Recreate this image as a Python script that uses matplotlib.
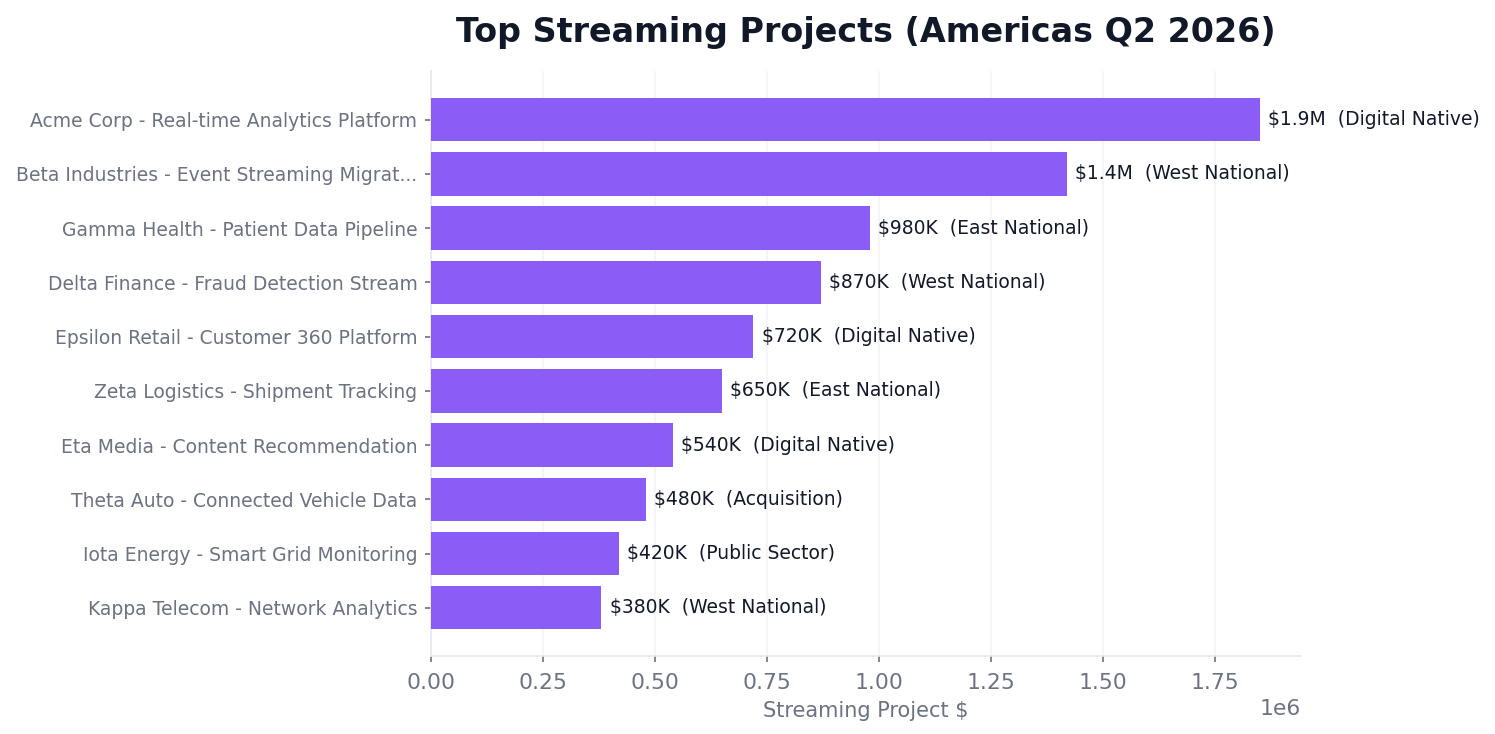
import matplotlib.pyplot as plt
import numpy as np

projects = [
    'Acme Corp - Real-time Analytics Platform',
    'Beta Industries - Event Streaming Migrat...',
    'Gamma Health - Patient Data Pipeline',
    'Delta Finance - Fraud Detection Stream',
    'Epsilon Retail - Customer 360 Platform',
    'Zeta Logistics - Shipment Tracking',
    'Eta Media - Content Recommendation',
    'Theta Auto - Connected Vehicle Data',
    'Iota Energy - Smart Grid Monitoring',
    'Kappa Telecom - Network Analytics',
]
values = [1850000, 1420000, 980000, 870000, 720000, 650000, 540000, 480000, 420000, 380000]
segments = ['Digital Native', 'West National', 'East National', 'West National', 'Digital Native',
            'East National', 'Digital Native', 'Acquisition', 'Public Sector', 'West National']


def fmt(v):
    if v >= 1e6:
        return f'${v/1e6:.1f}M'
    return f'${v/1e3:.0f}K'


fig = plt.figure(figsize=(1495/150, 734/150), dpi=150)
ax = fig.add_axes([0.2883, 0.1063, 0.5819, 0.7963])

y = np.arange(len(projects))
ax.barh(y, values, height=0.8, color='#8B5CF6', zorder=3)
ax.invert_yaxis()
ax.set_yticks(y)
ax.set_yticklabels(projects)
ax.set_xlim(0, max(values) * 1.05)

for yi, v, s in zip(y, values, segments):
    ax.annotate(f'{fmt(v)}  ({s})', xy=(v, yi), xytext=(4, 0), textcoords='offset points',
                va='center', ha='left', fontsize=9, color='#111827')

ax.grid(axis='x', color='#f3f4f6', linewidth=0.8, zorder=0)
ax.set_axisbelow(True)
for side in ['top', 'right']:
    ax.spines[side].set_visible(False)
for side in ['left', 'bottom']:
    ax.spines[side].set_color('#e5e7eb')
ax.tick_params(axis='y', colors='#6b7280', labelsize=9, length=3)
ax.tick_params(axis='x', colors='#6b7280', labelsize=10.5, length=3, pad=5)
ax.xaxis.get_offset_text().set_color('#6b7280')
ax.xaxis.get_offset_text().set_fontsize(10.5)
ax.set_xlabel('Streaming Project $', color='#6b7280', fontsize=10)
ax.set_title('Top Streaming Projects (Americas Q2 2026)', fontsize=16, fontweight='bold',
             color='#111827', pad=14)

fig.savefig('out.png', dpi=150)
